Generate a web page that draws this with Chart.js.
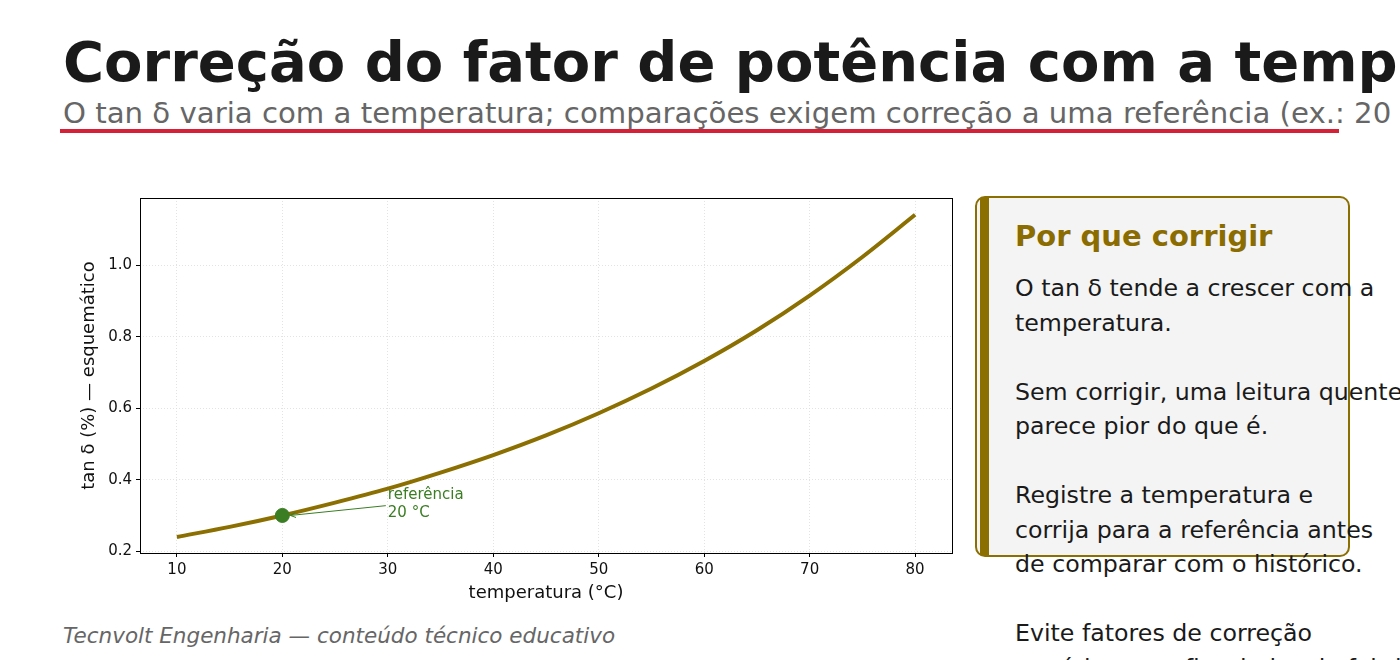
<!DOCTYPE html>
<html>
<head>
<meta charset="utf-8">
<script src="https://cdn.jsdelivr.net/npm/chart.js@4"></script>
<style>
  html, body { margin: 0; padding: 0; }
  body { width: 1400px; height: 660px; overflow: hidden; background: #fff; position: relative; font-family: "DejaVu Sans", sans-serif; }
  .abs { position: absolute; white-space: nowrap; }
  #title { left: 63px; top: 33.6px; font-size: 56px; line-height: 56px; font-weight: bold; color: #1a1a1a; }
  #subtitle { left: 63px; top: 99px; font-size: 29.2px; line-height: 29.2px; color: #666; }
  #rule { left: 60px; top: 129px; width: 1279px; height: 4px; background: #d62035; }
  #chartWrap { position: absolute; left: 0; top: 0; width: 960px; height: 620px; }
  #box { left: 975px; top: 196px; width: 371px; height: 357px; border: 2px solid #8b6f00; border-radius: 10px; background: #f4f4f4; box-sizing: content-box; }
  #bar { left: 980px; top: 198px; width: 9px; height: 357px; background: #8b6f00; }
  #boxTitle { left: 1015px; top: 221.5px; font-size: 29px; line-height: 29px; font-weight: bold; color: #8b6c00; }
  #boxBody { left: 1015px; top: 271.4px; font-size: 23.7px; line-height: 34.5px; color: #1a1a1a; }
  #footer { left: 63px; top: 624.8px; font-size: 21.5px; line-height: 21.5px; font-style: italic; color: #666; }
</style>
</head>
<body>
<div class="abs" id="title">Correção do fator de potência com a temperatura</div>
<div class="abs" id="subtitle">O tan δ varia com a temperatura; comparações exigem correção a uma referência (ex.: 20 °C)</div>
<div class="abs" id="rule"></div>
<div class="abs" id="box"></div>
<div class="abs" id="bar"></div>
<div class="abs" id="boxTitle">Por que corrigir</div>
<div class="abs" id="boxBody">O tan δ tende a crescer com a<br>temperatura.<br><br>Sem corrigir, uma leitura quente<br>parece pior do que é.<br><br>Registre a temperatura e<br>corrija para a referência antes<br>de comparar com o histórico.<br><br>Evite fatores de correção<br>genéricos; prefira dados do fabricante.</div>
<div class="abs" id="footer">Tecnvolt Engenharia — conteúdo técnico educativo</div>
<div id="chartWrap"><canvas id="chart" width="960" height="620"></canvas></div>
<script>
// temperatura (°C) e tan δ (%)
const temps = [10, 15, 20, 25, 30, 35, 40, 45, 50, 55, 60, 65, 70, 75, 80];
const tanDelta = [0.240, 0.268, 0.300, 0.336, 0.375, 0.420, 0.469, 0.524, 0.586, 0.655, 0.732, 0.818, 0.915, 1.023, 1.141];
const refPoint = { temp: 20, value: 0.30 };
const refLabel = ['referência', '20 °C'];
const xTicks = [10, 20, 30, 40, 50, 60, 70, 80];
const yTicks = [0.2, 0.4, 0.6, 0.8, 1.0];

const gold = '#8b6f00';
const green = '#3a7d22';

// moldura completa + anotação da referência
const extras = {
    id: 'extras',
    afterDatasetsDraw(chart) {
        const { ctx, chartArea: a, scales: { x, y } } = chart;
        ctx.save();
        ctx.strokeStyle = '#000';
        ctx.lineWidth = 1;
        ctx.strokeRect(Math.round(a.left) + 0.5, Math.round(a.top) + 0.5, Math.round(a.right - a.left), Math.round(a.bottom - a.top));

        const px = x.getPixelForValue(refPoint.temp);
        const py = y.getPixelForValue(refPoint.value);
        const tx = x.getPixelForValue(30);
        const ty = y.getPixelForValue(0.347);
        ctx.fillStyle = green;
        ctx.font = '15px "DejaVu Sans"';
        ctx.textBaseline = 'alphabetic';
        ctx.fillText(refLabel[0], tx, ty);
        ctx.fillText(refLabel[1], tx, ty + 18);

        // seta
        const sx = tx - 2, sy = ty + 7;
        const ex = px + 8, ey = py;
        ctx.strokeStyle = green;
        ctx.lineWidth = 1;
        ctx.beginPath();
        ctx.moveTo(sx, sy);
        ctx.lineTo(ex, ey);
        ctx.stroke();
        const ang = Math.atan2(ey - sy, ex - sx);
        ctx.beginPath();
        ctx.moveTo(ex, ey);
        ctx.lineTo(ex - 6 * Math.cos(ang - 0.45), ey - 6 * Math.sin(ang - 0.45));
        ctx.moveTo(ex, ey);
        ctx.lineTo(ex - 6 * Math.cos(ang + 0.45), ey - 6 * Math.sin(ang + 0.45));
        ctx.stroke();
        ctx.restore();
    }
};

const ctx = document.getElementById('chart').getContext('2d');
const chart = new Chart(ctx, {
    type: 'line',
    data: {
        datasets: [{
            data: temps.map((t, i) => ({ x: t, y: tanDelta[i] })),
            borderColor: gold,
            borderWidth: 4,
            pointRadius: 0,
            cubicInterpolationMode: 'monotone',
            fill: false,
            order: 2
        }, {
            type: 'scatter',
            data: [{ x: refPoint.temp, y: refPoint.value }],
            backgroundColor: green,
            borderColor: green,
            pointRadius: 7,
            order: 1
        }]
    },
    options: {
        responsive: false,
        animation: false,
        layout: { padding: { left: 79, top: 198, right: 8, bottom: 16 } },
        plugins: { legend: { display: false }, tooltip: { enabled: false } },
        scales: {
            x: {
                type: 'linear',
                min: 6.5,
                max: 83.5,
                afterBuildTicks: axis => { axis.ticks = xTicks.map(v => ({ value: v })); },
                afterFit: axis => { axis.height = 51; },
                ticks: { color: '#111', font: { family: 'DejaVu Sans', size: 15 }, padding: 4, maxRotation: 0 },
                grid: { color: '#dcdcdc', lineWidth: 0.8, tickColor: '#000', tickLength: 4, tickWidth: 1 },
                border: { display: false, dash: [1, 2] },
                title: { display: true, text: 'temperatura (°C)', color: '#111', font: { family: 'DejaVu Sans', size: 18 }, padding: { top: 2, bottom: 0 } }
            },
            y: {
                type: 'linear',
                min: 0.195,
                max: 1.188,
                afterBuildTicks: axis => { axis.ticks = yTicks.map(v => ({ value: v })); },
                afterFit: axis => { axis.width = 61; },
                ticks: { color: '#111', font: { family: 'DejaVu Sans', size: 15 }, padding: 4, callback: v => v.toFixed(1) },
                grid: { color: '#dcdcdc', lineWidth: 0.8, tickColor: '#000', tickLength: 4, tickWidth: 1 },
                border: { display: false, dash: [1, 2] },
                title: { display: true, text: 'tan δ (%) — esquemático', color: '#111', font: { family: 'DejaVu Sans', size: 18 }, padding: { top: 0, bottom: 4 } }
            }
        }
    },
    plugins: [extras]
});
</script>
</body>
</html>
